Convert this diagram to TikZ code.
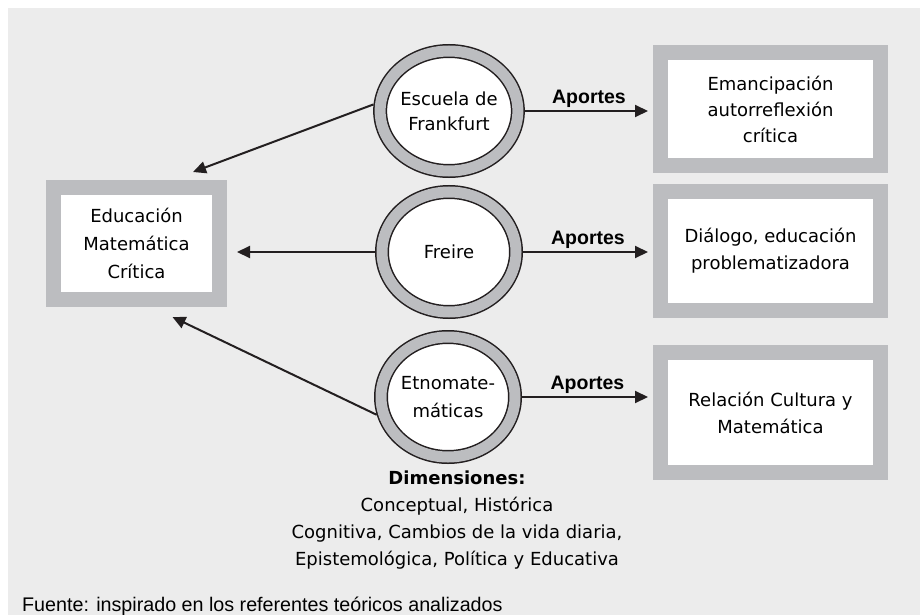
\documentclass[tikz,border=0pt]{standalone}
\usepackage{fontspec}
\setmainfont{DejaVu Sans}
\newfontfamily\arialfont{Liberation Sans}
\usetikzlibrary{arrows.meta,shapes.geometric,positioning}
\definecolor{ringgray}{HTML}{BCBDC0}
\definecolor{bgpanel}{HTML}{ECECEC}
\definecolor{inkblack}{HTML}{231F20}

\begin{document}
\begin{tikzpicture}[x=1pt,y=-1pt,
  ring/.style={ellipse,draw=inkblack,line width=1.5pt,double=ringgray,double distance=11pt,
    fill=white,minimum width=134pt,minimum height=120pt,inner sep=0pt,outer sep=7pt,
    align=center,font=\fontsize{18}{25}\selectfont},
  panel/.style={draw=ringgray,line width=15pt,fill=white,minimum width=220pt,
    minimum height=120pt,inner sep=0pt,align=center,font=\fontsize{18}{27}\selectfont},
  arr/.style={draw=inkblack,line width=2pt,-{Triangle[length=13pt,width=12pt]}},
  aportes/.style={font=\arialfont\bfseries\fontsize{19.5}{22}\selectfont,inner sep=0pt,above=2pt}]
  \useasboundingbox (0,0) rectangle (920,615);
  \fill[bgpanel] (8,8) rectangle (920,615);

  % left box
  \node[panel,minimum width=166pt,minimum height=112pt,font=\fontsize{18}{28}\selectfont]
    (emc) at (136.5,243.5) {Educación\\Matemática\\Crítica};

  % rings
  \node[ring] (fra) at (449,111) {Escuela de\\Frankfurt};
  \node[ring] (fre) at (449,252) {Freire};
  \node[ring,font=\fontsize{18}{28}\selectfont] (etno) at (448,397) {Etnomate-\\máticas};

  % right boxes
  \node[panel,minimum height=113pt,font=\fontsize{18}{26}\selectfont]
    (emf) at (770.5,109) {Emancipación\\autorreflexión\\crítica};
  \node[panel,minimum height=119pt] (dia) at (770.5,251) {Diálogo, educación\\problematizadora};
  \node[panel] (rcm) at (770.5,412.5) {Relación Cultura y\\Matemática};

  \draw[arr,shorten >=5pt] (fra.east) -- (fra.east -| emf.west) node[midway,aportes] {Aportes};
  \draw[arr,shorten >=5pt] (fre.east) -- (fre.east -| dia.west) node[midway,aportes] {Aportes};
  \draw[arr,shorten >=5pt] (etno.east) -- (etno.east -| rcm.west) node[midway,aportes] {Aportes};

  % into the left box
  \coordinate (t1) at ([shift={(-34,-8)}]emc.north east);
  \coordinate (t3) at ([shift={(36,10)}]emc.south);
  \draw[arr] (fra.175) -- (t1);
  \draw[arr,shorten >=10pt] (fre.west) -- (fre.west -| emc.east);
  \draw[arr] (etno.194) -- (t3);

  \node[align=center,inner sep=0pt,font=\fontsize{18}{27}\selectfont] (dims) at (457,520)
    {\textbf{Dimensiones:}\\Conceptual, Histórica\\Cognitiva, Cambios de la vida diaria,\\Epistemológica, Política y Educativa};

  \node[anchor=base west,inner sep=0pt,font=\arialfont\fontsize{19.7}{22}\selectfont] (src) at (22,611)
    {Fuente: inspirado en los referentes teóricos analizados};
\end{tikzpicture}
\end{document}
